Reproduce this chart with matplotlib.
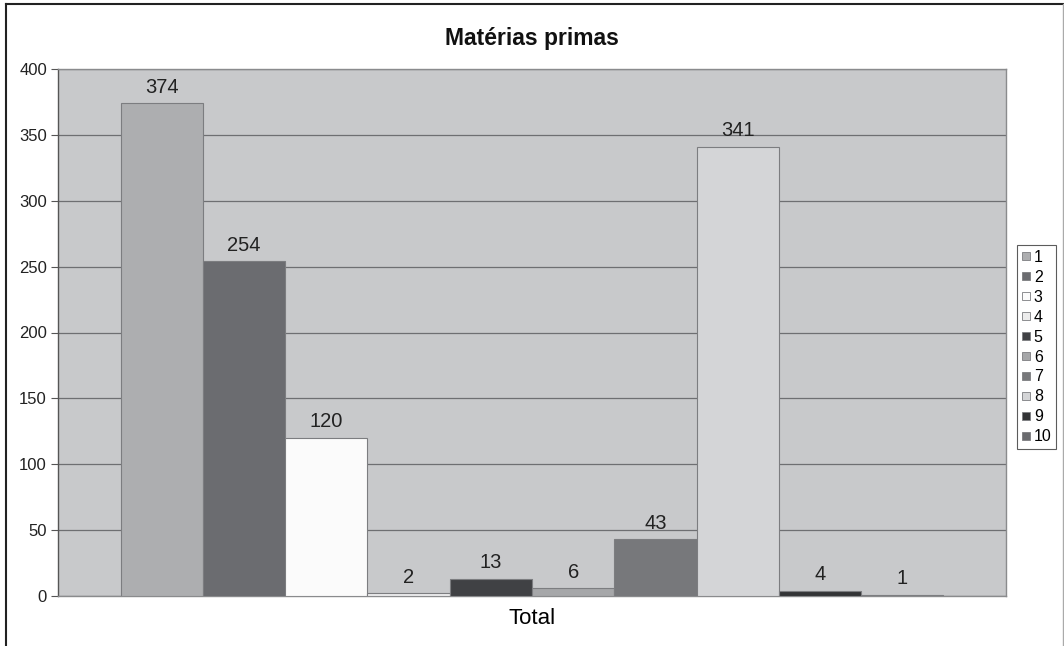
import numpy as np
import matplotlib.pyplot as plt
from matplotlib.lines import Line2D

# Raw-material counts per item
series = ['1', '2', '3', '4', '5', '6', '7', '8', '9', '10']
values = [374, 254, 120, 2, 13, 6, 43, 341, 4, 1]
colors = ['#adaeb0', '#6b6c70', '#fbfbfb', '#ececec', '#404144',
          '#a6a7a9', '#77787b', '#d4d5d7', '#333436', '#6a6b6f']
category = 'Total'

plt.rcParams['font.family'] = ['Liberation Sans', 'DejaVu Sans']

fig = plt.figure(figsize=(10.64, 6.46), dpi=100)
ax = fig.add_axes([58/1064, 1-596/646, 948/1064, 527/646])
ax.set_facecolor('#c8c9cb')

n = len(values)
w = 0.868 / n
for i, (v, c) in enumerate(zip(values, colors)):
    x = (i - (n - 1) / 2) * w
    ax.bar(x, v, width=w, color=c, edgecolor='#7c7d80', linewidth=0.8, zorder=3)
    ax.text(x, v + 5, str(v), ha='center', va='bottom', fontsize=14.5, color='#222222', zorder=4)

ax.set_xlim(-0.5, 0.5)
ax.set_ylim(0, 400)
ax.set_yticks(range(0, 401, 50))
ax.yaxis.grid(True, color='#6e6f72', linewidth=0.9, zorder=1)
ax.set_xticks([0])
ax.set_xticklabels([category], fontsize=16)
ax.tick_params(axis='x', length=0, pad=9)
ax.tick_params(axis='y', labelsize=12, length=5, color='#555555', pad=3, labelcolor='#222222')
for s in ax.spines.values():
    s.set_color('#8a8b8d')
    s.set_linewidth(1.0)
ax.spines['left'].set_color('#555555')

fig.text(532/1064, 1-38/646, 'Matérias primas', ha='center', va='center',
         fontsize=16.5, fontweight='bold', color='#111111')

handles = [Line2D([], [], marker='s', linestyle='none', markersize=6,
                  markerfacecolor=c, markeredgecolor='#7c7d80', markeredgewidth=0.6)
           for c in colors]
leg = fig.legend(handles, series, loc='upper left',
                 bbox_to_anchor=(1017/1064, 1-245/646), fontsize=11.5,
                 frameon=True, fancybox=False, edgecolor='#333333',
                 handlelength=0.5, handletextpad=0.25, labelspacing=0.31,
                 borderpad=0.3, borderaxespad=0)
leg.get_frame().set_linewidth(0.8)

# Outer frame of the chart
fig.add_artist(Line2D([6/1064, 6/1064], [0, 1-4/646], color='#222222', lw=1.5))
fig.add_artist(Line2D([6/1064, 1], [1-4/646, 1-4/646], color='#222222', lw=1.5))
fig.add_artist(Line2D([1062.5/1064, 1062.5/1064], [0, 1-4/646], color='#aaaaaa', lw=1.0))

fig.savefig('out.png', dpi=100)
